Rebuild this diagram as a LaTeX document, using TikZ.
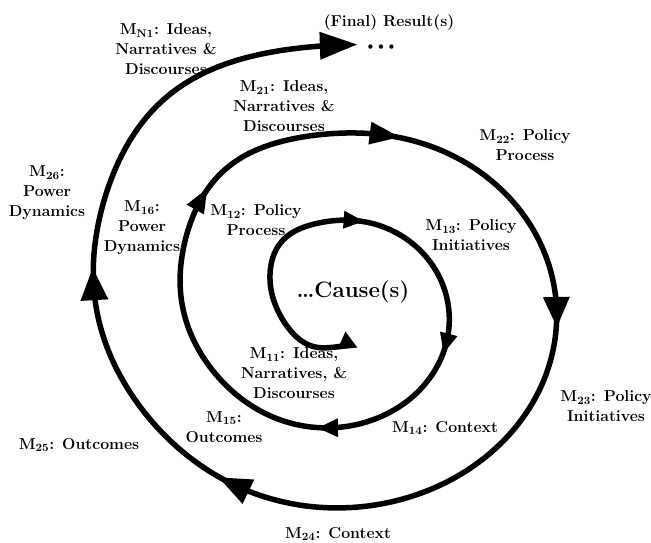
\documentclass[tikz,border=0pt]{standalone}
\newcommand\spArrow[3]{%
 \pgfmathsetmacro\spPx{spx(#1)}%
 \pgfmathsetmacro\spPy{spy(#1)}%
 \pgfmathsetmacro\spDx{spx(#1+0.004)-spx(#1-0.004)}%
 \pgfmathsetmacro\spDy{spy(#1+0.004)-spy(#1-0.004)}%
 \pgfmathsetmacro\spN{veclen(\spDx,\spDy)}%
 \pgfmathsetmacro\spUx{\spDx/\spN}%
 \pgfmathsetmacro\spUy{\spDy/\spN}%
 \fill ({\spPx+0.5*#2*\spUx},{\spPy+0.5*#2*\spUy})
  -- ({\spPx-0.5*#2*\spUx-0.5*#3*\spUy},{\spPy-0.5*#2*\spUy+0.5*#3*\spUx})
  -- ({\spPx-0.5*#2*\spUx+0.5*#3*\spUy},{\spPy-0.5*#2*\spUy-0.5*#3*\spUx}) -- cycle;
}
\begin{document}
\begin{tikzpicture}[x=0.03cm,y=-0.03cm,
  declare function={
    gs(\u)=exp(-min(\u*\u,9));
    bump(\t)=7*\t*gs((mod(360*\t,360)-232)/25)-3.6*\t*gs((mod(360*\t,360)-150)/35);
    spx(\t)=326+9.75*\t+(14+98.25*\t+bump(\t))*cos(360*\t)+4*gs((\t-0.5)/0.15)+4*gs((\t-0.17)/0.08);
    spy(\t)=307.2-3.5*\t+(19.8+84*\t+bump(\t))*sin(360*\t)-9*gs((\t-0.5)/0.15)+6*gs((\t-0.17)/0.06);
  },
  lbl/.style={font=\bfseries\fontsize{13.5}{17}\selectfont, align=center, inner sep=0pt},
  spiral/.style={line width=0.165cm, line join=round}]
\useasboundingbox (0,0) rectangle (651,543);
% spiral
\draw[spiral] plot[domain=0.17:2.742, samples=500, variable=\t] ({spx(\t)},{spy(\t)});
% arrowheads
\spArrow{0.185}{17}{20}
\spArrow{0.785}{20}{18}
\spArrow{1.06}{20}{18}
\spArrow{1.262}{20}{19}
\spArrow{1.608}{24}{20}
\spArrow{1.785}{30}{23}
\spArrow{2.01}{30}{27}
\spArrow{2.33}{33}{27}
\spArrow{2.51}{32}{28}
\spArrow{2.742}{37}{28}
% labels
\node[lbl] (res) at (389,23) {(Final) Result(s)};
\node[inner sep=0pt, font=\bfseries\fontsize{12.5}{15}\selectfont] (dots) at (381,48) {\textbullet\kern-2pt\textbullet\kern-2pt\textbullet};
\node[lbl, font=\bfseries\fontsize{19}{23}\selectfont] (cause) at (353,292) {\ldots Cause(s)};
\node[lbl] (mn1) at (166,49) {M\textsubscript{N1}: Ideas,\\Narratives \&\\Discourses};
\node[lbl] (m21) at (284,106) {M\textsubscript{21}: Ideas,\\Narratives \&\\Discourses};
\node[lbl] (m26) at (47,193) {M\textsubscript{26}:\\Power\\Dynamics};
\node[lbl] (m16) at (142,228) {M\textsubscript{16}:\\Power\\Dynamics};
\node[lbl] (m12) at (256,220) {M\textsubscript{12}: Policy\\Process};
\node[lbl] (m22) at (525,145) {M\textsubscript{22}: Policy\\Process};
\node[lbl] (m13) at (471,235) {M\textsubscript{13}: Policy\\Initiatives};
\node[lbl] (m11) at (294,373) {M\textsubscript{11}: Ideas,\\Narratives, \&\\Discourses};
\node[lbl] (m15) at (224,427) {M\textsubscript{15}:\\Outcomes};
\node[lbl] (m14) at (445,428) {M\textsubscript{14}: Context};
\node[lbl] (m25) at (79,445) {M\textsubscript{25}: Outcomes};
\node[lbl] (m24) at (338,534) {M\textsubscript{24}: Context};
\node[lbl] (m23) at (606,406) {M\textsubscript{23}: Policy\\Initiatives};
\end{tikzpicture}
\end{document}
